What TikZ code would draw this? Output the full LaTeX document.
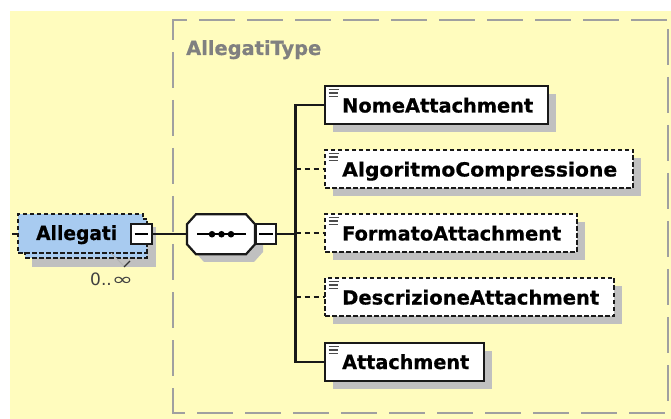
\documentclass[tikz,border=0pt]{standalone}
\usepackage{fontspec}
\setmainfont{DejaVu Sans}[BoldFeatures={FakeBold=0.7}]
\usetikzlibrary{shadows}
\definecolor{bgyellow}{HTML}{FFFCBE}
\definecolor{contgray}{HTML}{A0A0A0}
\definecolor{shadowgray}{HTML}{C0C0C0}
\definecolor{elemblue}{HTML}{A8CBF0}
\tikzset{
  x=1pt,y=-1pt,
  shad/.style={general shadow={shadow xshift=8pt,shadow yshift=-8pt,fill=shadowgray}},
  elem/.style={draw=black!90,line width=2.2pt,fill=white,anchor=north west,inner sep=0pt,outer sep=0pt,minimum height=38pt,shad},
  optelem/.style={elem,dash pattern=on 4.5pt off 2.5pt},
  allegbox/.style={draw=black!90,line width=2.1pt,dash pattern=on 4.5pt off 2.5pt,fill=elemblue,anchor=north west,minimum height=39pt,inner sep=0pt,outer sep=0pt},
  lbl/.style={font=\fontsize{19.5}{19.5}\selectfont\bfseries,anchor=base west,inner sep=0pt,text=black},
  minus/.style={draw=black!90,line width=2pt,fill=white,anchor=north west,minimum width=20.5pt,minimum height=20.5pt,inner sep=0pt,outer sep=0pt},
  conn/.style={draw=black!90,line width=2.1pt},
  dconn/.style={conn,dash pattern=on 5pt off 4pt},
  cont/.style={draw=contgray,line width=2.2pt}
}
\newcommand{\wtext}[2]{\resizebox{#1pt}{\height}{#2}}
\newcommand{\docicon}[1]{\draw[line width=1.6pt,black!70] ([shift={(3.5,3.5)}]#1.north west) -- ++(10.5,0) ([shift={(3.5,7)}]#1.north west) -- ++(9.5,0) ([shift={(3.5,10.5)}]#1.north west) -- ++(9,0);}
\begin{document}
\begin{tikzpicture}
\useasboundingbox (0,0) rectangle (671,419);
\fill[white] (0,0) rectangle (671,419);
\fill[bgyellow] (10,11) rectangle (671,419);
% container
\draw[cont,dash pattern=on 36pt off 12pt,dash phase=21pt] (172,20) -- (668,20);
\draw[cont,dash pattern=on 36pt off 12pt,dash phase=16pt] (173,20) -- (173,413);
\draw[cont,dash pattern=on 36pt off 12pt,dash phase=23pt] (172,413) -- (668,413);
\draw[cont,dash pattern=on 36pt off 12pt,dash phase=39pt] (668,20) -- (668,413);
\node[lbl,text=black!50] (typename) at (186,55) {\wtext{135}{AllegatiType}};
% Allegati element
\fill[shadowgray] (32,227) rectangle (156,267);
\node[allegbox,minimum width=125pt] (allegati) at (18,214) {};
\node[allegbox,minimum width=122pt] (allback) at (25,219) {};
\fill[elemblue] (24,215) rectangle (142,252);
\draw[draw=black!90,line width=2.1pt,dash pattern=on 4.5pt off 2.5pt] (25,253) -- (147,253);
\node[lbl] (allegatitxt) at (36,240) {\wtext{81}{Allegati}};
\node[minus] (allminus) at (131,224) {};
\draw[line width=1.6pt] ([xshift=3.5pt]allminus.west) -- ([xshift=-3.5pt]allminus.east);
\coordinate (leftstub) at (12,234.25);
\draw[conn] (leftstub) -- (leftstub -| allegati.west);
\draw[black!30,line width=1pt] (111,253) -- (124,266);
\draw[black!80,line width=1.4pt] (124,267) -- (130,261);
\node[lbl,font=\fontsize{17}{17}\selectfont,text=black!75] (card) at (90,285.5) {0..\scalebox{1.5}[1]{∞}};
% sequence
\fill[shadowgray] (204,222) -- (254,222) -- (263,232) -- (263,252) -- (254,262) -- (204,262) -- (195,252) -- (195,232) -- cycle;
\node[inner sep=0pt,outer sep=0pt,minimum width=68pt,minimum height=40pt] (seq) at (221,234.25) {};
\draw[draw=black!90,line width=2.2pt,fill=white] ([xshift=9pt]seq.north west) -- ([xshift=-9pt]seq.north east) -- ([yshift=-10pt]seq.north east) -- ([yshift=10pt]seq.south east) -- ([xshift=-9pt]seq.south east) -- ([xshift=9pt]seq.south west) -- ([yshift=10pt]seq.south west) -- ([yshift=-10pt]seq.north west) -- cycle;
\draw[line width=1.8pt] ([xshift=10pt]seq.west) -- ([xshift=-9pt]seq.east);
\foreach \px in {212,221.5,231} \fill (\px,234.25) circle (3.3pt);
\node[minus] (seqminus) at (255.5,224) {};
\draw[line width=1.6pt] ([xshift=3.5pt]seqminus.west) -- ([xshift=-3.5pt]seqminus.east);
\draw[conn] (allminus.east) -- (seq.west);
% children
\node[elem,minimum width=223pt] (nome) at (325,86) {};
\node[optelem,minimum width=308pt] (algo) at (325,150) {};
\node[optelem,minimum width=252pt] (form) at (325,214) {};
\node[optelem,minimum width=289pt] (desc) at (325,278) {};
\node[elem,minimum width=159pt] (att) at (325,343) {};
\node[lbl] at (342,112.5) {\wtext{191}{NomeAttachment}};
\node[lbl] at (342,176.5) {\wtext{275}{AlgoritmoCompressione}};
\node[lbl] at (342,240.5) {\wtext{219}{FormatoAttachment}};
\node[lbl] at (342,304.5) {\wtext{257}{DescrizioneAttachment}};
\node[lbl] at (342,369) {\wtext{127}{Attachment}};
\foreach \n in {nome,algo,form,desc,att} {\docicon{\n}}
% connectors
\coordinate (trunk) at (295.5,234.25);
\draw[conn] (seqminus.east) -- (trunk);
\draw[conn] (nome.west) -| (trunk) |- (att.west);
\draw[dconn] (trunk |- algo.west) -- (algo.west);
\draw[dconn] (trunk |- form.west) -- (form.west);
\draw[dconn] (trunk |- desc.west) -- (desc.west);
\end{tikzpicture}
\end{document}
